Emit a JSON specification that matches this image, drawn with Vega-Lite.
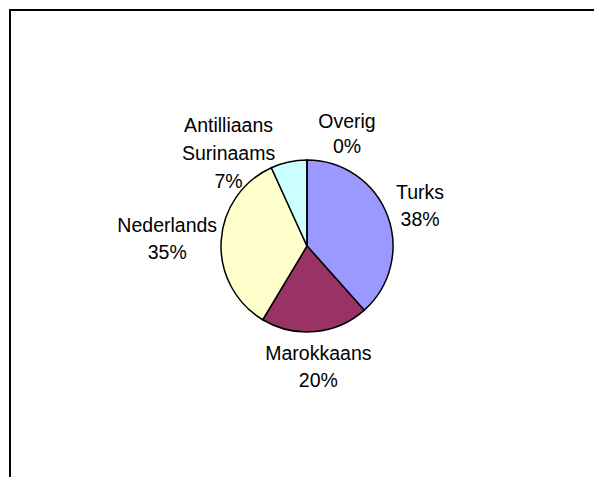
{
  "$schema": "https://vega.github.io/schema/vega-lite/v6.json",
  "width": 594,
  "height": 472,
  "padding": {"left": 10, "top": 10, "right": 0, "bottom": 0},
  "autosize": "none",
  "background": "white",
  "view": {"stroke": "black", "strokeWidth": 2, "fill": "white"},
  "config": {"view": {"stroke": "black", "strokeWidth": 2}, "font": "Liberation Sans"},
  "data": {
    "values": [
      {"name": "Turks", "value": 38.4, "rank": 1, "label": "Turks\n38%"},
      {"name": "Marokkaans", "value": 20.2, "rank": 2, "label": "Marokkaans\n20%"},
      {"name": "Nederlands", "value": 34.6, "rank": 3, "label": "Nederlands\n35%"},
      {"name": "Antilliaans Surinaams", "value": 6.8, "rank": 4, "label": "Antilliaans\nSurinaams\n7%"},
      {"name": "Overig", "value": 0, "rank": 5, "label": "Overig\n0%"}
    ]
  },
  "encoding": {
    "theta": {"field": "value", "type": "quantitative", "stack": true},
    "order": {"field": "rank", "type": "quantitative"}
  },
  "layer": [
    {
      "mark": {"type": "arc", "radius": 86, "stroke": "black", "strokeWidth": 1.5},
      "encoding": {
        "color": {
          "field": "name",
          "type": "nominal",
          "scale": {
            "domain": ["Turks", "Marokkaans", "Nederlands", "Antilliaans Surinaams", "Overig"],
            "range": ["#9999FF", "#993366", "#FFFFCC", "#CCFFFF", "#660066"]
          },
          "legend": null
        }
      }
    },
    {
      "mark": {"type": "text", "radius": 121, "dy": -10, "fontSize": 19.5, "lineBreak": "\n", "lineHeight": 27, "align": "center", "baseline": "middle", "font": "Liberation Sans", "color": "black"},
      "encoding": {
        "text": {"condition": {"test": "datum.name == 'Turks'", "field": "label"}, "value": ""}
      }
    },
    {
      "mark": {"type": "text", "radius": 121, "dy": -12, "fontSize": 19.5, "lineBreak": "\n", "lineHeight": 27, "align": "center", "baseline": "middle", "font": "Liberation Sans", "color": "black"},
      "encoding": {
        "text": {"condition": {"test": "datum.name == 'Marokkaans'", "field": "label"}, "value": ""}
      }
    },
    {
      "mark": {"type": "text", "radius": 140, "dy": -12, "fontSize": 19.5, "lineBreak": "\n", "lineHeight": 27, "align": "center", "baseline": "middle", "font": "Liberation Sans", "color": "black"},
      "encoding": {
        "text": {"condition": {"test": "datum.name == 'Nederlands'", "field": "label"}, "value": ""}
      }
    },
    {
      "mark": {"type": "text", "radius": 120, "dx": -53, "dy": -3, "fontSize": 19.5, "lineBreak": "\n", "lineHeight": 28, "align": "center", "baseline": "middle", "font": "Liberation Sans", "color": "black"},
      "encoding": {
        "text": {"condition": {"test": "datum.name == 'Antilliaans Surinaams'", "field": "label"}, "value": ""}
      }
    },
    {
      "mark": {"type": "text", "radius": 120, "dx": 40, "dy": -4, "fontSize": 19.5, "lineBreak": "\n", "lineHeight": 25, "align": "center", "baseline": "middle", "font": "Liberation Sans", "color": "black"},
      "encoding": {
        "text": {"condition": {"test": "datum.name == 'Overig'", "field": "label"}, "value": ""}
      }
    }
  ]
}
